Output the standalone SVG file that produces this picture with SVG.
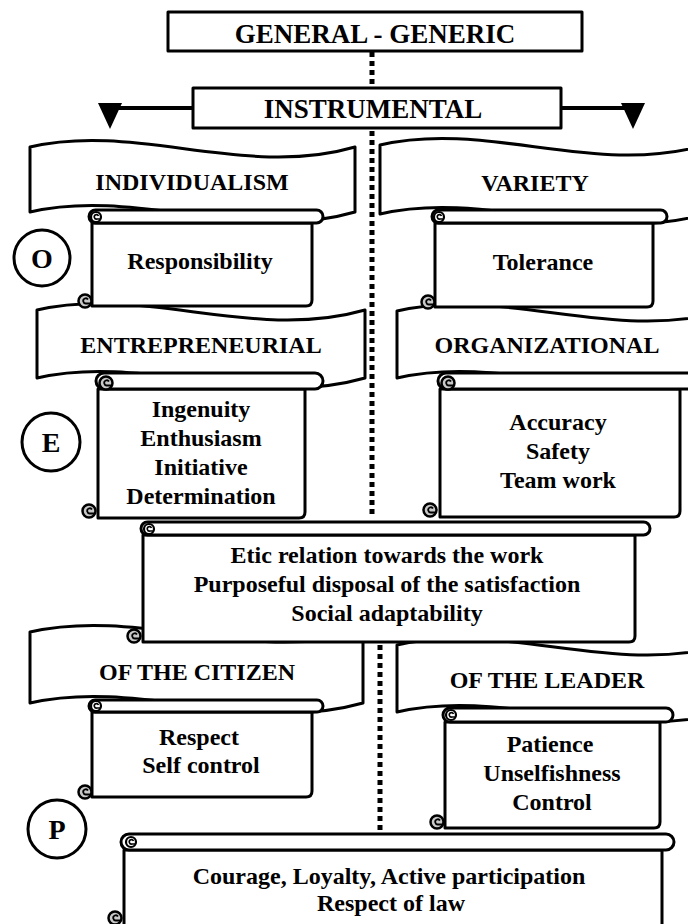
<svg xmlns="http://www.w3.org/2000/svg" width="688" height="924" viewBox="0 0 688 924">
<defs>
<style>
.b{fill:#fff;stroke:#000;stroke-width:3;stroke-linejoin:round}
.t{font-family:"Liberation Serif","Times New Roman",serif;font-weight:bold;font-size:24px;text-anchor:middle;fill:#000}
.h{font-size:27px}
.c{font-size:28px}
.dot{stroke:#000;stroke-width:5;stroke-dasharray:5 4;fill:none}
.ln{stroke:#000;stroke-width:4;fill:none}
</style>
<g id="curlB"><circle r="6.5" fill="#c8c8c8" stroke="#000" stroke-width="2.5"/><path d="M3,-1.5 A2.6,2.6 0 1 0 1,2.5 L5,2.5" fill="none" stroke="#000" stroke-width="1.8"/></g>
<g id="curlT"><circle r="5" fill="#fff" stroke="#000" stroke-width="2.2"/><path d="M2.5,-1 A2.2,2.2 0 1 0 1,2 L4,2" fill="none" stroke="#000" stroke-width="1.6"/></g>
</defs>
<rect width="688" height="924" fill="#fff"/>

<g id="connectors">
<line class="dot" x1="372" y1="52" x2="372" y2="88"/>
<line class="dot" x1="372" y1="131" x2="372" y2="518"/>
<line class="dot" x1="380" y1="645" x2="380" y2="834"/>
<path class="ln" d="M193,108 H110"/>
<polygon points="98,103 122,103 110,129" fill="#000"/>
<path class="ln" d="M561,108 H633"/>
<polygon points="621,103 645,103 633,129" fill="#000"/>
</g>

<g id="general">
<rect class="b" x="168" y="12" width="414" height="39" stroke-width="3.5"/>
<text class="t h" x="375" y="43">GENERAL - GENERIC</text>
</g>
<g id="instrumental">
<rect class="b" x="193" y="88" width="368" height="40" stroke-width="3.5"/>
<text class="t h" x="373" y="118">INSTRUMENTAL</text>
</g>

<g id="banner-individualism">
<path class="b" d="M30,147 C137,122 245,179 355,147 L355,212 C245,244 137,187 30,212 Z"/>
<text class="t" x="192" y="190">INDIVIDUALISM</text>
</g>
<g id="banner-variety">
<path class="b" d="M380,145 C487,120 595,177 705,145 L705,214 C595,246 487,189 380,214 Z"/>
<text class="t" x="535" y="191">VARIETY</text>
</g>
<g id="banner-entrepreneurial">
<path class="b" d="M37,310 C145,285 253,342 365,310 L365,378 C253,410 145,353 37,378 Z"/>
<text class="t" x="201" y="353">ENTREPRENEURIAL</text>
</g>
<g id="banner-organizational">
<path class="b" d="M397,311 C505,286 613,343 725,311 L725,378 C613,410 505,353 397,378 Z"/>
<text class="t" x="547" y="353">ORGANIZATIONAL</text>
</g>
<g id="banner-citizen">
<path class="b" d="M30,632 C140,607 250,664 363,632 L363,703 C250,735 140,678 30,703 Z"/>
<text class="t" x="197" y="680">OF THE CITIZEN</text>
</g>
<g id="banner-leader">
<path class="b" d="M397,645 C505,620 613,677 725,645 L725,712 C613,744 505,687 397,712 Z"/>
<text class="t" x="547" y="688">OF THE LEADER</text>
</g>

<g id="circle-o">
<circle class="b" cx="42" cy="258" r="28"/>
<text class="t c" x="42" y="268">O</text>
</g>
<g id="circle-e">
<circle class="b" cx="51" cy="442" r="29"/>
<text class="t c" x="51" y="452">E</text>
</g>
<g id="circle-p">
<circle class="b" cx="57" cy="829" r="29"/>
<text class="t c" x="57" y="839">P</text>
</g>

<g id="scroll-responsibility">
<path class="b" d="M92,223 V306 H306 Q312,306 312,300 V223 Z"/>
<rect class="b" x="89" y="210" width="234" height="13" rx="6.5"/>
<use href="#curlT" x="96" y="217"/>
<use href="#curlB" x="85" y="301"/>
<text class="t" x="200" y="269">Responsibility</text>
</g>
<g id="scroll-tolerance">
<path class="b" d="M435,223 V307 H647 Q653,307 653,301 V223 Z"/>
<rect class="b" x="432" y="210" width="235" height="13" rx="6.5"/>
<use href="#curlT" x="439" y="217"/>
<use href="#curlB" x="428" y="302"/>
<text class="t" x="543" y="270">Tolerance</text>
</g>
<g id="scroll-entrepreneurial">
<path class="b" d="M98,389 V518 H299 Q305,518 305,512 V389 Z"/>
<rect class="b" x="96" y="373" width="227" height="16" rx="8"/>
<use href="#curlB" x="106" y="383"/>
<use href="#curlB" x="89" y="511"/>
<text class="t" x="201" y="417">Ingenuity</text>
<text class="t" x="201" y="446">Enthusiasm</text>
<text class="t" x="201" y="475">Initiative</text>
<text class="t" x="201" y="504">Determination</text>
</g>
<g id="scroll-organizational">
<path class="b" d="M440,389 V517 H674 Q680,517 680,511 V389 Z"/>
<rect class="b" x="438" y="373" width="262" height="16" rx="8"/>
<use href="#curlB" x="448" y="383"/>
<use href="#curlB" x="430" y="510"/>
<text class="t" x="558" y="430">Accuracy</text>
<text class="t" x="558" y="459">Safety</text>
<text class="t" x="558" y="488">Team work</text>
</g>
<g id="scroll-middle">
<path class="b" d="M143,535 V642 H629 Q635,642 635,636 V535 Z"/>
<rect class="b" x="141" y="522" width="509" height="13" rx="6.5"/>
<use href="#curlT" x="149" y="529"/>
<use href="#curlB" x="134" y="636"/>
<text class="t" x="387" y="563">Etic relation towards the work</text>
<text class="t" x="387" y="592">Purposeful disposal of the satisfaction</text>
<text class="t" x="387" y="621">Social adaptability</text>
</g>
<g id="scroll-citizen">
<path class="b" d="M92,712 V797 H306 Q312,797 312,791 V712 Z"/>
<rect class="b" x="89" y="700" width="234" height="12" rx="6"/>
<use href="#curlT" x="96" y="706"/>
<use href="#curlB" x="85" y="792"/>
<text class="t" x="199" y="745">Respect</text>
<text class="t" x="201" y="773">Self control</text>
</g>
<g id="scroll-leader">
<path class="b" d="M445,722 V828 H654 Q660,828 660,822 V722 Z"/>
<rect class="b" x="443" y="708" width="230" height="14" rx="7"/>
<use href="#curlT" x="451" y="715"/>
<use href="#curlB" x="437" y="822"/>
<text class="t" x="550" y="752">Patience</text>
<text class="t" x="552" y="781">Unselfishness</text>
<text class="t" x="552" y="810">Control</text>
</g>
<g id="scroll-bottom">
<path class="b" d="M124,850 V940 H662 V850 Z"/>
<rect class="b" x="121" y="834" width="553" height="16" rx="8"/>
<use href="#curlT" x="131" y="842"/>
<use href="#curlB" x="115" y="918"/>
<text class="t" x="389" y="884">Courage, Loyalty, Active participation</text>
<text class="t" x="391" y="911">Respect of law</text>
</g>
</svg>
